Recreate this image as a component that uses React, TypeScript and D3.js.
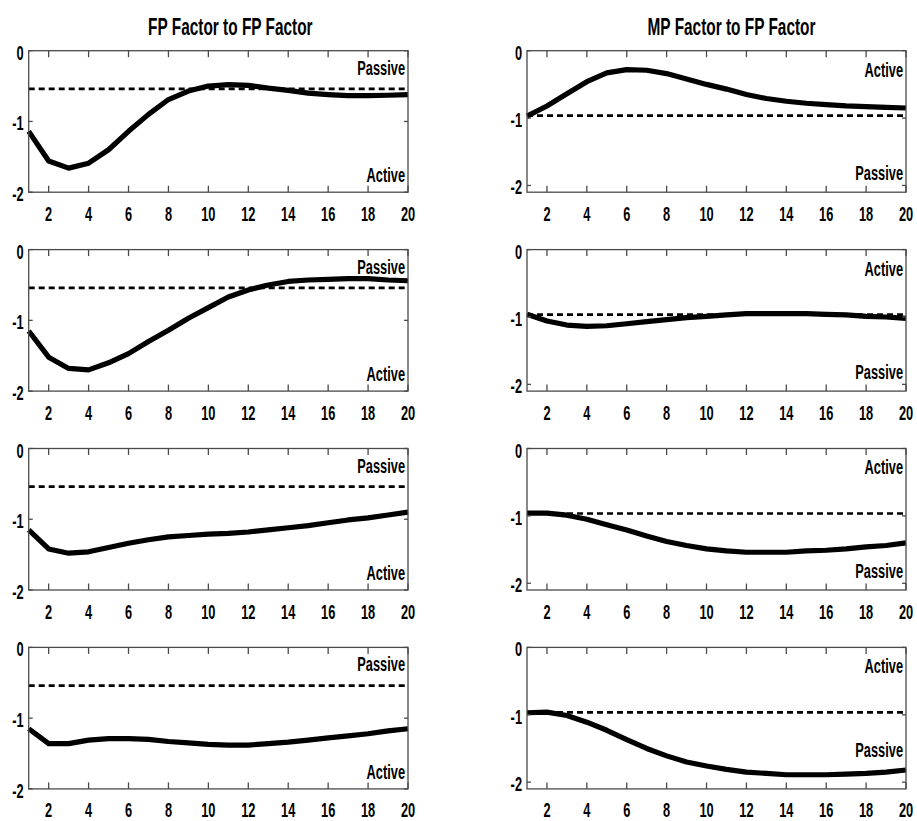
import React from 'react';
import * as d3 from 'd3';

// horizons
const periods = [1, 2, 3, 4, 5, 6, 7, 8, 9, 10, 11, 12, 13, 14, 15, 16, 17, 18, 19, 20];
const xTicks = [2, 4, 6, 8, 10, 12, 14, 16, 18, 20];
const yTicks = [0, -1, -2];

// FP factor -> FP factor (left column)
const fpFp1 = [-1.14, -1.56, -1.66, -1.59, -1.4, -1.14, -0.9, -0.69, -0.57, -0.5, -0.48, -0.49, -0.53, -0.56, -0.6, -0.62, -0.635, -0.635, -0.63, -0.62];
const fpFp2 = [-1.15, -1.52, -1.68, -1.7, -1.6, -1.47, -1.3, -1.14, -0.97, -0.82, -0.67, -0.57, -0.5, -0.45, -0.43, -0.42, -0.41, -0.41, -0.43, -0.44];
const fpFp3 = [-1.15, -1.42, -1.48, -1.46, -1.4, -1.34, -1.29, -1.25, -1.23, -1.21, -1.2, -1.18, -1.15, -1.12, -1.09, -1.05, -1.01, -0.98, -0.94, -0.9];
const fpFp4 = [-1.15, -1.36, -1.36, -1.31, -1.29, -1.29, -1.3, -1.33, -1.35, -1.37, -1.38, -1.38, -1.36, -1.34, -1.31, -1.28, -1.25, -1.22, -1.18, -1.15];

// MP factor -> FP factor (right column)
const mpFp1 = [-0.97, -0.82, -0.64, -0.46, -0.33, -0.28, -0.29, -0.34, -0.42, -0.5, -0.57, -0.65, -0.71, -0.75, -0.78, -0.8, -0.82, -0.83, -0.84, -0.85];
const mpFp2 = [-0.96, -1.06, -1.12, -1.14, -1.13, -1.1, -1.07, -1.04, -1.01, -0.99, -0.97, -0.95, -0.95, -0.95, -0.95, -0.96, -0.97, -0.99, -1.0, -1.02];
const mpFp3 = [-0.96, -0.96, -0.99, -1.05, -1.13, -1.21, -1.3, -1.38, -1.44, -1.49, -1.52, -1.54, -1.54, -1.54, -1.52, -1.51, -1.49, -1.46, -1.44, -1.4];
const mpFp4 = [-0.97, -0.96, -1.01, -1.11, -1.23, -1.37, -1.5, -1.61, -1.7, -1.76, -1.81, -1.85, -1.87, -1.89, -1.89, -1.89, -1.88, -1.87, -1.85, -1.82];

const fpThreshold = -0.54;
const mpThreshold = -0.965;

const leftSeries = [fpFp1, fpFp2, fpFp3, fpFp4];
const rightSeries = [mpFp1, mpFp2, mpFp3, mpFp4];

const FONT = '"Liberation Sans", Arial, sans-serif';
const AXIS = '#4a4a4a';
const TXT = 'scale(0.8,1.25)';

interface PanelProps {
  x0: number;
  x1: number;
  top: number;
  height: number;
  values: number[];
  threshold: number;
  yMin: number;
  topLabel: string;
  bottomLabel: string;
  topLabelY: number;
  bottomLabelY: number;
}

const Panel: React.FC<PanelProps> = ({ x0, x1, top, height, values, threshold, yMin, topLabel, bottomLabel, topLabelY, bottomLabelY }) => {
  const x = d3.scaleLinear().domain([1, 20]).range([x0, x1]);
  const y = d3.scaleLinear().domain([yMin, 0]).range([top + height, top]);
  const line = d3.line<number>()
    .x((_, i) => x(periods[i]))
    .y(d => y(d))
    .curve(d3.curveLinear);

  const bottom = top + height;
  return (
    <g>
      {/* dashed boundary */}
      <line x1={x0} x2={x1} y1={y(threshold)} y2={y(threshold)} stroke="#000" strokeWidth={2.7} strokeDasharray="6,4" />
      {/* response */}
      <path d={line(values) || ''} fill="none" stroke="#000" strokeWidth={5.2} strokeLinejoin="round" />

      {/* box */}
      <rect x={x0} y={top} width={x1 - x0} height={height} fill="none" stroke={AXIS} strokeWidth={1.3} />
      {xTicks.map(t => (
        <g key={t}>
          <line x1={x(t)} x2={x(t)} y1={top} y2={top + 6.5} stroke={AXIS} strokeWidth={1.3} />
          <line x1={x(t)} x2={x(t)} y1={bottom} y2={bottom - 6.5} stroke={AXIS} strokeWidth={1.3} />
          <text transform={`translate(${x(t)},${bottom + 28.5}) ${TXT}`} textAnchor="middle" fontFamily={FONT} fontWeight="bold" fontSize={16} fill="#000">{t}</text>
        </g>
      ))}
      {yTicks.map(t => (
        <g key={t}>
          <line x1={x0} x2={x0 + 4} y1={y(t)} y2={y(t)} stroke={AXIS} strokeWidth={1.3} />
          <line x1={x1} x2={x1 - 4} y1={y(t)} y2={y(t)} stroke={AXIS} strokeWidth={1.3} />
          <text transform={`translate(${x0 - 5},${y(t) + 9}) ${TXT}`} textAnchor="end" fontFamily={FONT} fontWeight="bold" fontSize={16} fill="#000">{t === 0 ? '0' : `-${Math.abs(t)}`}</text>
        </g>
      ))}

      <text transform={`translate(${x1 - 3},${y(topLabelY)}) ${TXT}`} textAnchor="end" fontFamily={FONT} fontWeight="bold" fontSize={16} fill="#000">{topLabel}</text>
      <text transform={`translate(${x1 - 3},${y(bottomLabelY)}) ${TXT}`} textAnchor="end" fontFamily={FONT} fontWeight="bold" fontSize={16} fill="#000">{bottomLabel}</text>
    </g>
  );
};

export default function App() {
  const W = 917;
  const H = 821;
  const rowTop = (r: number) => 50.7 + r * 198.9;
  const ph = 141.5;
  const left = { x0: 28.7, x1: 408 };
  const right = { x0: 527, x1: 906 };

  return (
    <svg width={W} height={H} style={{ position: 'absolute', left: 0, top: 0, background: '#fff' }}>
      <rect width={W} height={H} fill="#fff" />
      <text transform={`translate(${(left.x0 + left.x1) / 2 + 12},35) scale(0.77,1.2)`} textAnchor="middle" fontFamily={FONT} fontWeight="bold" fontSize={20}>FP Factor to FP Factor</text>
      <text transform={`translate(${(right.x0 + right.x1) / 2 + 15},35) scale(0.77,1.2)`} textAnchor="middle" fontFamily={FONT} fontWeight="bold" fontSize={20}>MP Factor to FP Factor</text>

      {leftSeries.map((s, r) => (
        <Panel key={`l${r}`} {...left} top={rowTop(r)} height={ph} values={s} threshold={fpThreshold} yMin={-2}
          topLabel="Passive" bottomLabel="Active" topLabelY={-0.34} bottomLabelY={-1.86} />
      ))}
      {rightSeries.map((s, r) => (
        <Panel key={`r${r}`} {...right} top={rowTop(r)} height={ph} values={s} threshold={mpThreshold} yMin={-2.1}
          topLabel="Active" bottomLabel="Passive" topLabelY={-0.385} bottomLabelY={r === 3 ? -1.63 : -1.92} />
      ))}
    </svg>
  );
}
